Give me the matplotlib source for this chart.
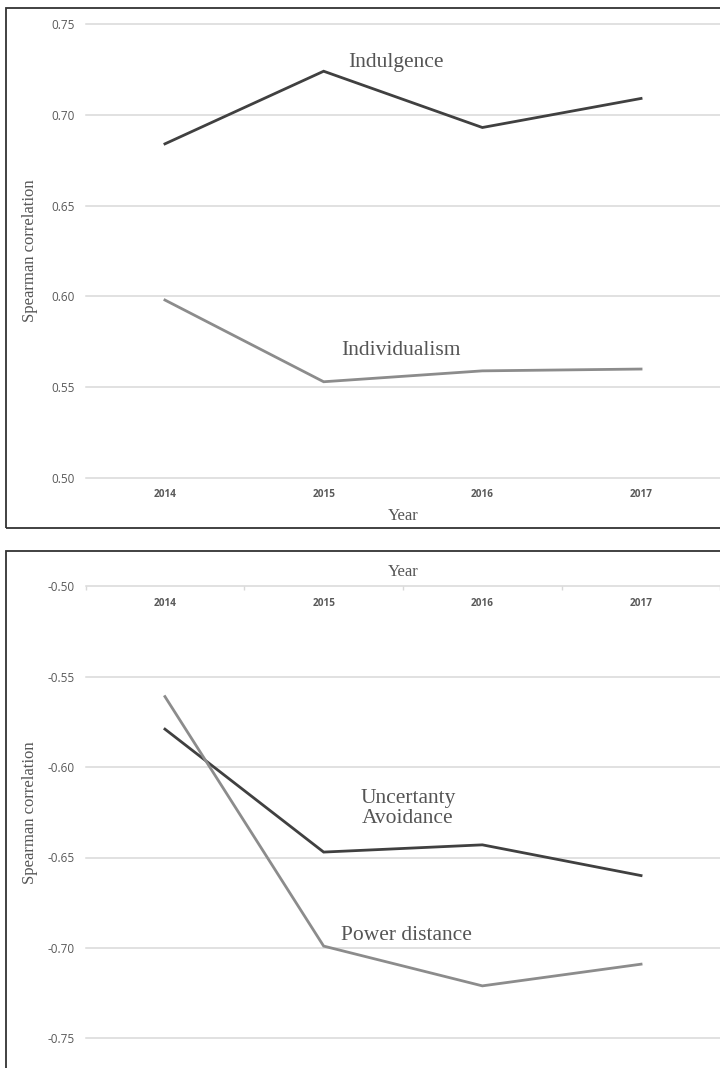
import matplotlib.pyplot as plt
from matplotlib.patches import Rectangle

# data
years = ['2014', '2015', '2016', '2017']
indulgence = [0.684, 0.724, 0.693, 0.709]
individualism = [0.598, 0.553, 0.559, 0.560]
uncertainty = [-0.579, -0.647, -0.643, -0.660]
power_distance = [-0.561, -0.699, -0.721, -0.709]
top_yticks = [0.50, 0.55, 0.60, 0.65, 0.70, 0.75]
bottom_yticks = [-0.75, -0.70, -0.65, -0.60, -0.55, -0.50]

dark = '#404040'
light = '#8c8c8c'
grid_c = '#d9d9d9'
tick_c = '#595959'
serif = 'Liberation Serif'
sans = 'Open Sans'

fig = plt.figure(figsize=(7.2, 10.68), dpi=100)
W, H = 720, 1068

# chart borders (Excel style frames)
fig.patches.append(Rectangle((6.5 / W, 1 - 528 / H), 1.2, (528 - 8) / H,
                             transform=fig.transFigure, fill=False,
                             ec='#333333', lw=1.3))
fig.patches.append(Rectangle((6.5 / W, -0.2), 1.2, 0.2 + 1 - 551 / H,
                             transform=fig.transFigure, fill=False,
                             ec='#333333', lw=1.3))

ax1 = fig.add_axes([85.6 / W, 1 - 478 / H, (720.4 - 85.6) / W, (478 - 24) / H])
ax2 = fig.add_axes([85.6 / W, 1 - 1038.3 / H, (720.4 - 85.6) / W, (1038.3 - 586.3) / H])

x = list(range(len(years)))

for ax, ticks in [(ax1, top_yticks), (ax2, bottom_yticks)]:
    for s in ax.spines.values():
        s.set_visible(False)
    ax.set_xlim(-0.5, 3.5)
    ax.set_ylim(ticks[0], ticks[-1])
    ax.set_yticks(ticks)
    ax.set_yticklabels(['%.2f' % t for t in ticks], fontfamily=sans,
                       fontsize=8.5, color=tick_c)
    ax.tick_params(axis='y', length=0, pad=8)
    for t in ticks:
        ax.axhline(t, color=grid_c, lw=1.1, zorder=0, clip_on=False)
    ax.set_xticks(x)
    ax.set_facecolor('none')

# top chart
ax1.plot(x, indulgence, color=dark, lw=2.0, solid_joinstyle='miter')
ax1.plot(x, individualism, color=light, lw=2.0, solid_joinstyle='miter')
ax1.set_xticklabels(years, fontfamily=sans, fontsize=7.2, fontweight='bold',
                    color=tick_c)
ax1.tick_params(axis='x', length=0, pad=8)
ax1.text(1.456, 0.729, 'Indulgence', fontfamily=serif, fontsize=15.5,
         color='#555555', ha='center', va='center')
ax1.text(1.49, 0.5704, 'Individualism', fontfamily=serif, fontsize=15.5,
         color='#555555', ha='center', va='center')
ax1.text(0.5, -0.084, 'Year', transform=ax1.transAxes, fontfamily=serif,
         fontsize=12, color='#555555', ha='center', va='center')
ax1.text(-0.0876, 0.5, 'Spearman correlation', transform=ax1.transAxes,
         fontfamily=serif, fontsize=12, color='#555555', rotation=90,
         ha='center', va='center')

# bottom chart
ax2.plot(x, uncertainty, color=dark, lw=2.0, solid_joinstyle='miter')
ax2.plot(x, power_distance, color=light, lw=2.0, solid_joinstyle='miter')
ax2.set_xticks([-0.5, 0.5, 1.5, 2.5, 3.5], minor=True)
ax2.set_xticklabels(years, fontfamily=sans, fontsize=7.2, fontweight='bold',
                    color=tick_c)
ax2.tick_params(axis='x', which='major', length=0, bottom=False,
                labelbottom=False, labeltop=True, pad=-16)
ax2.tick_params(axis='x', which='minor', bottom=False, top=True,
                direction='in', length=3, color=grid_c, width=1)
ax2.text(1.53, -0.623, 'Uncertanty\nAvoidance', fontfamily=serif,
         fontsize=15.5, color='#555555', ha='center', va='center',
         linespacing=1.1)
ax2.text(1.52, -0.693, 'Power distance', fontfamily=serif, fontsize=15.5,
         color='#555555', ha='center', va='center')
ax2.text(0.5, 1.0 + 14 / 452, 'Year', transform=ax2.transAxes,
         fontfamily=serif, fontsize=12, color='#555555', ha='center',
         va='center')
ax2.text(-0.0876, 0.5, 'Spearman correlation', transform=ax2.transAxes,
         fontfamily=serif, fontsize=12, color='#555555', rotation=90,
         ha='center', va='center')

fig.savefig('out.png', dpi=100)
